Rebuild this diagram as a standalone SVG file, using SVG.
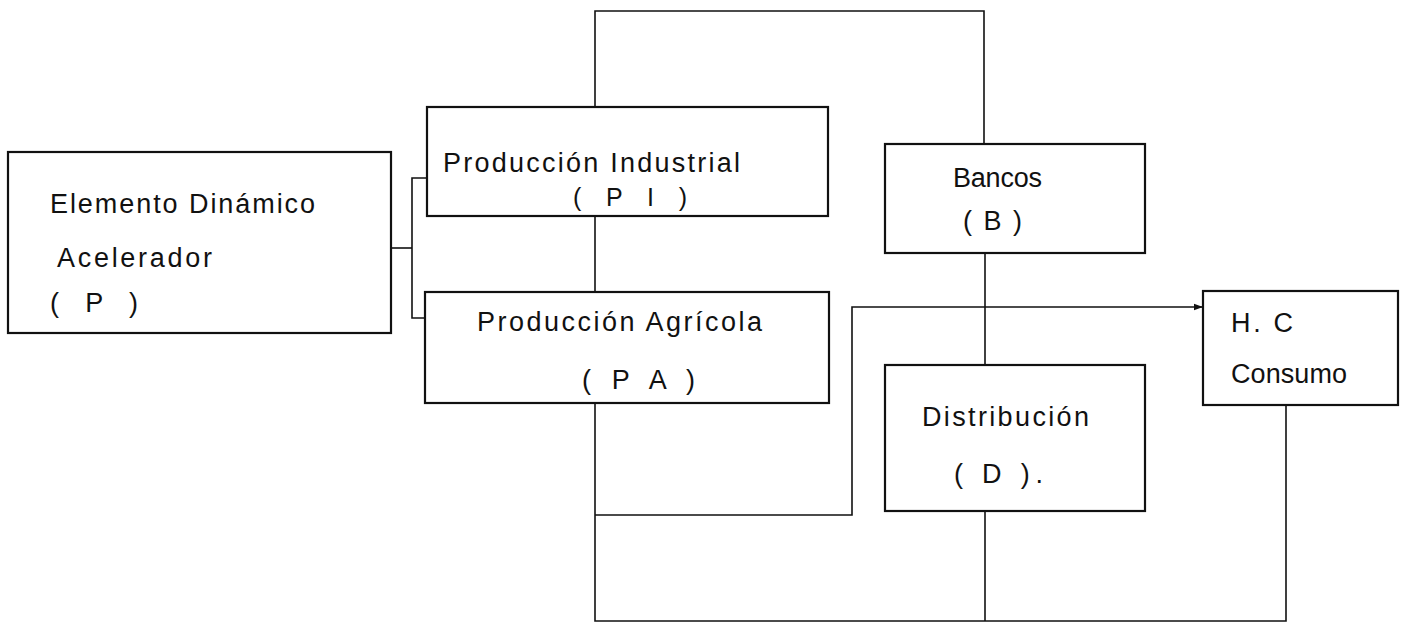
<svg xmlns="http://www.w3.org/2000/svg" width="1402" height="625" viewBox="0 0 1402 625">
<style>
.box{fill:#fff;stroke:#111;stroke-width:2.2}
.ln{fill:none;stroke:#111;stroke-width:1.6}
.t{font-family:"Liberation Sans",Arial,sans-serif;font-size:27px;fill:#111}
.s{font-size:25px}
</style>
<defs>
<marker id="ah" viewBox="0 0 10 10" refX="10" refY="5" markerWidth="9" markerHeight="9" markerUnits="userSpaceOnUse" orient="auto">
<path d="M0,1.5 L10,5 L0,8.5 z" fill="#111"/>
</marker>
</defs>
<rect width="1402" height="625" fill="#fff"/>
<g id="connectors">
<polyline class="ln" points="391,248 412,248"/>
<polyline class="ln" points="427,178 412,178 412,318 425,318"/>
<polyline class="ln" points="595,107 595,11 984,11 984,144"/>
<polyline class="ln" points="595,216 595,292"/>
<polyline class="ln" points="595,403 595,621 1286,621 1286,405"/>
<polyline class="ln" points="595,515 852,515 852,307 1203,307" marker-end="url(#ah)"/>
<polyline class="ln" points="985,253 985,365"/>
<polyline class="ln" points="985,511 985,621"/>
</g>
<g id="node-P">
<rect class="box" x="8" y="152" width="383" height="181"/>
<text class="t" x="50" y="213" textLength="265" lengthAdjust="spacing">Elemento Dinámico</text>
<text class="t" x="57" y="267" textLength="155" lengthAdjust="spacing">Acelerador</text>
<text class="t" x="50" y="312" textLength="88" lengthAdjust="spacing">( P )</text>
</g>
<g id="node-PI">
<rect class="box" x="427" y="107" width="401" height="109"/>
<text class="t" x="443" y="172" textLength="297" lengthAdjust="spacing">Producción Industrial</text>
<text class="t s" x="573" y="206" textLength="114" lengthAdjust="spacing">( P I )</text>
</g>
<g id="node-PA">
<rect class="box" x="425" y="292" width="404" height="111"/>
<text class="t" x="477" y="331" textLength="285" lengthAdjust="spacing">Producción Agrícola</text>
<text class="t" x="582" y="389" textLength="113" lengthAdjust="spacing">( P A )</text>
</g>
<g id="node-B">
<rect class="box" x="885" y="144" width="260" height="109"/>
<text class="t" x="953" y="187" textLength="89" lengthAdjust="spacing">Bancos</text>
<text class="t" x="963" y="230" textLength="59" lengthAdjust="spacing">( B )</text>
</g>
<g id="node-D">
<rect class="box" x="885" y="365" width="260" height="146"/>
<text class="t" x="922" y="426" textLength="167" lengthAdjust="spacing">Distribución</text>
<text class="t" x="954" y="483" textLength="89" lengthAdjust="spacing">( D ).</text>
</g>
<g id="node-HC">
<rect class="box" x="1203" y="291" width="195" height="114"/>
<text class="t" x="1231" y="332" textLength="62" lengthAdjust="spacing">H. C</text>
<text class="t" x="1231" y="383" textLength="116" lengthAdjust="spacing">Consumo</text>
</g>
</svg>
